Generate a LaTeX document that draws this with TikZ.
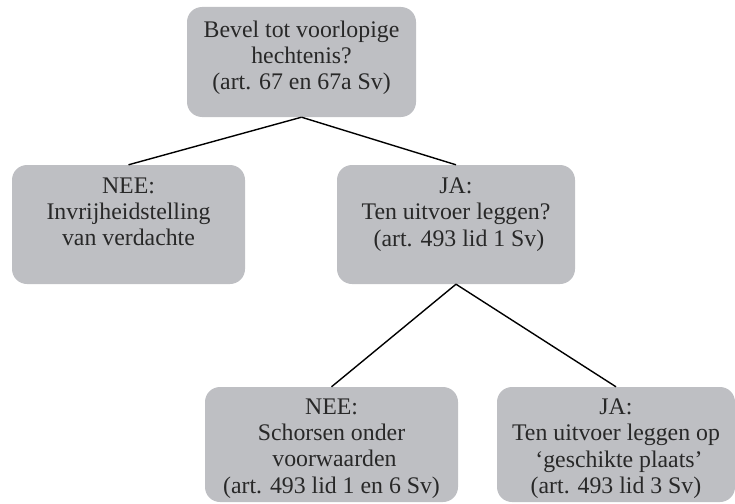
\documentclass[tikz,border=0pt]{standalone}
\usepackage{fontspec}
\setmainfont{Liberation Serif}
\definecolor{boxgray}{RGB}{190,191,195}
\definecolor{txtgray}{RGB}{40,40,40}
\tikzset{
  box/.style={draw=none, fill=boxgray, rounded corners=15pt, inner sep=0pt},
  txt/.style={anchor=north, align=center, text=txtgray, inner sep=0pt,
    font=\fontsize{23.8}{26.2}\selectfont},
  conn/.style={draw=black, line width=1.4pt}
}
\begin{document}
\begin{tikzpicture}[x=1pt,y=-1pt]
\useasboundingbox (0,0) rectangle (735,503);
\node[box, minimum width=229pt, minimum height=110pt] (top) at (301.5,62) {};
\node[box, minimum width=233pt, minimum height=119pt] (nee1) at (128.5,224.5) {};
\node[box, minimum width=238pt, minimum height=119pt] (ja1) at (456,224.5) {};
\node[box, minimum width=253pt, minimum height=115pt] (nee2) at (331.5,444.5) {};
\node[box, minimum width=238pt, minimum height=115pt] (ja2) at (616,444.5) {};
\node[txt] (ttop) at ([yshift=-13.5pt]top.north) {Bevel tot voorlopige\\hechtenis?\\(art. 67 en 67a Sv)};
\node[txt] (tnee1) at ([yshift=-13pt]nee1.north) {NEE:\\Invrijheidstelling\\van verdachte};
\node[txt] (tja1) at ([yshift=-13pt]ja1.north) {JA:\\Ten uitvoer leggen?\\\ (art. 493 lid 1 Sv)};
\node[txt] (tnee2) at ([yshift=-12pt]nee2.north) {NEE:\\Schorsen onder\\\ voorwaarden\\(art. 493 lid 1 en 6 Sv)};
\node[txt] (tja2) at ([yshift=-12pt]ja2.north) {JA:\\Ten uitvoer leggen op\\\ `geschikte plaats'\\(art. 493 lid 3 Sv)};
\draw[conn] (top.south) -- (nee1.north);
\draw[conn] (top.south) -- (ja1.north);
\draw[conn] (ja1.south) -- (nee2.north);
\draw[conn] (ja1.south) -- (ja2.north);
\end{tikzpicture}
\end{document}
